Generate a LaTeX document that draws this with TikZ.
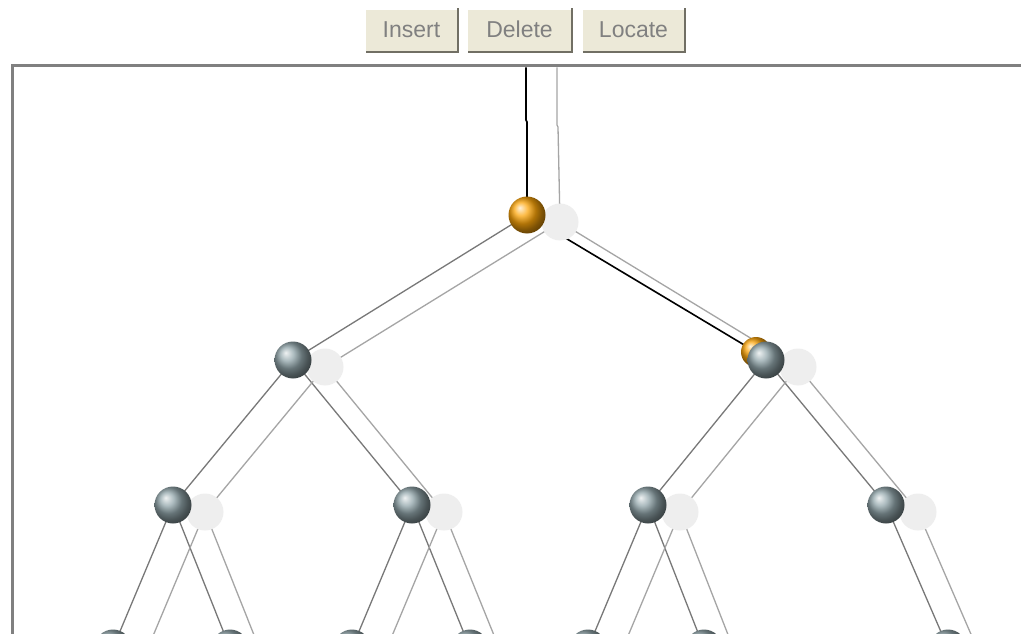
\documentclass[tikz,border=0pt]{standalone}
\usepackage{fontspec}
\setmainfont{Liberation Sans}
\usetikzlibrary{backgrounds}
\definecolor{btnfill}{RGB}{236,233,216}
\definecolor{btntext}{RGB}{128,128,128}
\definecolor{btndark}{RGB}{113,111,100}
\definecolor{framegray}{RGB}{128,128,128}
\definecolor{ballgray}{RGB}{145,165,170}
\definecolor{ballorange}{RGB}{252,165,10}
\definecolor{shadowfill}{RGB}{238,238,238}
\definecolor{edgegray}{RGB}{120,120,120}
\definecolor{shedgegray}{RGB}{165,165,165}
\tikzset{
  btn/.style={fill=btnfill, minimum height=43pt, inner sep=0pt, text=btntext, text height=16pt, text depth=1pt, font=\fontsize{23}{25}\selectfont},
  gball/.style={circle, minimum size=37pt, inner sep=0pt, shading=ball, ball color=ballgray},
  oball/.style={circle, minimum size=37pt, inner sep=0pt, shading=ball, ball color=ballorange},
  sball/.style={circle, minimum size=37pt, inner sep=0pt, fill=shadowfill},
  redge/.style={draw=edgegray, line width=1.3pt},
  sedge/.style={draw=shedgegray, line width=1.3pt},
  bedge/.style={draw=black, line width=1.6pt},
}
\begin{document}
\begin{tikzpicture}[x=1pt,y=-1pt]
\clip (0,0) rectangle (1021,634);
% buttons
\node[btn, minimum width=92pt] (ins) at (411.5,30.5) {Insert};
\node[btn, minimum width=104pt] (del) at (519.5,30.5) {Delete};
\node[btn, minimum width=103pt] (loc) at (633.5,30.5) {Locate};
\foreach \b in {ins,del,loc}{
  \draw[white, line width=1.5pt] (\b.south west) |- (\b.north east);
  \draw[btndark, line width=2pt] ([xshift=1pt]\b.south west) -| ([yshift=1pt]\b.north east);
}
% frame
\draw[framegray, line width=3pt] (12,640) -- (12,66) -- (1030,66);
% top coordinates
\coordinate (ttop) at (526,67.5);
\coordinate (stop) at (557,67.5);
% shadow balls
\node[sball] (sr) at (560,222) {};
\node[sball] (sa) at (325,367) {};
\node[sball] (sb) at (798,367) {};
\node[sball] (sc) at (205,512) {};
\node[sball] (sd) at (444,512) {};
\node[sball] (se) at (680,512) {};
\node[sball] (sf) at (918,512) {};
\node[sball] (sg) at (145,655) {};
\node[sball] (sh) at (262,655) {};
\node[sball] (si) at (384,655) {};
\node[sball] (sj) at (502,655) {};
\node[sball] (sk) at (620,655) {};
\node[sball] (sl) at (736,655) {};
\node[sball] (sm) at (980,655) {};
% ghost orange behind right child
\node[oball, minimum size=30pt] (og) at (756,352) {};
% real balls
\node[oball] (r) at (527,215) {};
\node[gball] (a) at (293,360) {};
\node[gball] (b) at (766,360) {};
\node[gball] (c) at (173,505) {};
\node[gball] (d) at (412,505) {};
\node[gball] (e) at (648,505) {};
\node[gball] (f) at (886,505) {};
\node[gball] (g) at (113,648) {};
\node[gball] (h) at (230,648) {};
\node[gball] (i) at (352,648) {};
\node[gball] (j) at (470,648) {};
\node[gball] (k) at (588,648) {};
\node[gball] (l) at (704,648) {};
\node[gball] (m) at (948,648) {};
\begin{scope}[on background layer]
  \fill[white] (0,0) rectangle (1021,634);
  \draw[bedge] (ttop) -- (526,120) -- (527,122) -- (r.center);
  \draw[sedge] (stop) -- (557,125) -- (558,127) -- (sr.center);
  \draw[bedge] (r.center) -- (og.center);
  \draw[redge] (r.center) -- (a.center);
  \draw[sedge] (sr.center) -- (sa.center);
  \draw[sedge] (sr.center) -- (sb.center);
  \draw[redge] (a.center) -- (c.center);
  \draw[redge] (a.center) -- (d.center);
  \draw[redge] (b.center) -- (e.center);
  \draw[redge] (b.center) -- (f.center);
  \draw[sedge] (sa.center) -- (sc.center);
  \draw[sedge] (sa.center) -- (sd.center);
  \draw[sedge] (sb.center) -- (se.center);
  \draw[sedge] (sb.center) -- (sf.center);
  \draw[redge] (c.center) -- (g.center);
  \draw[redge] (c.center) -- (h.center);
  \draw[redge] (d.center) -- (i.center);
  \draw[redge] (d.center) -- (j.center);
  \draw[redge] (e.center) -- (k.center);
  \draw[redge] (e.center) -- (l.center);
  \draw[redge] (f.center) -- (m.center);
  \draw[sedge] (sc.center) -- (sg.center);
  \draw[sedge] (sc.center) -- (sh.center);
  \draw[sedge] (sd.center) -- (si.center);
  \draw[sedge] (sd.center) -- (sj.center);
  \draw[sedge] (se.center) -- (sk.center);
  \draw[sedge] (se.center) -- (sl.center);
  \draw[sedge] (sf.center) -- (sm.center);
\end{scope}
\end{tikzpicture}
\end{document}
